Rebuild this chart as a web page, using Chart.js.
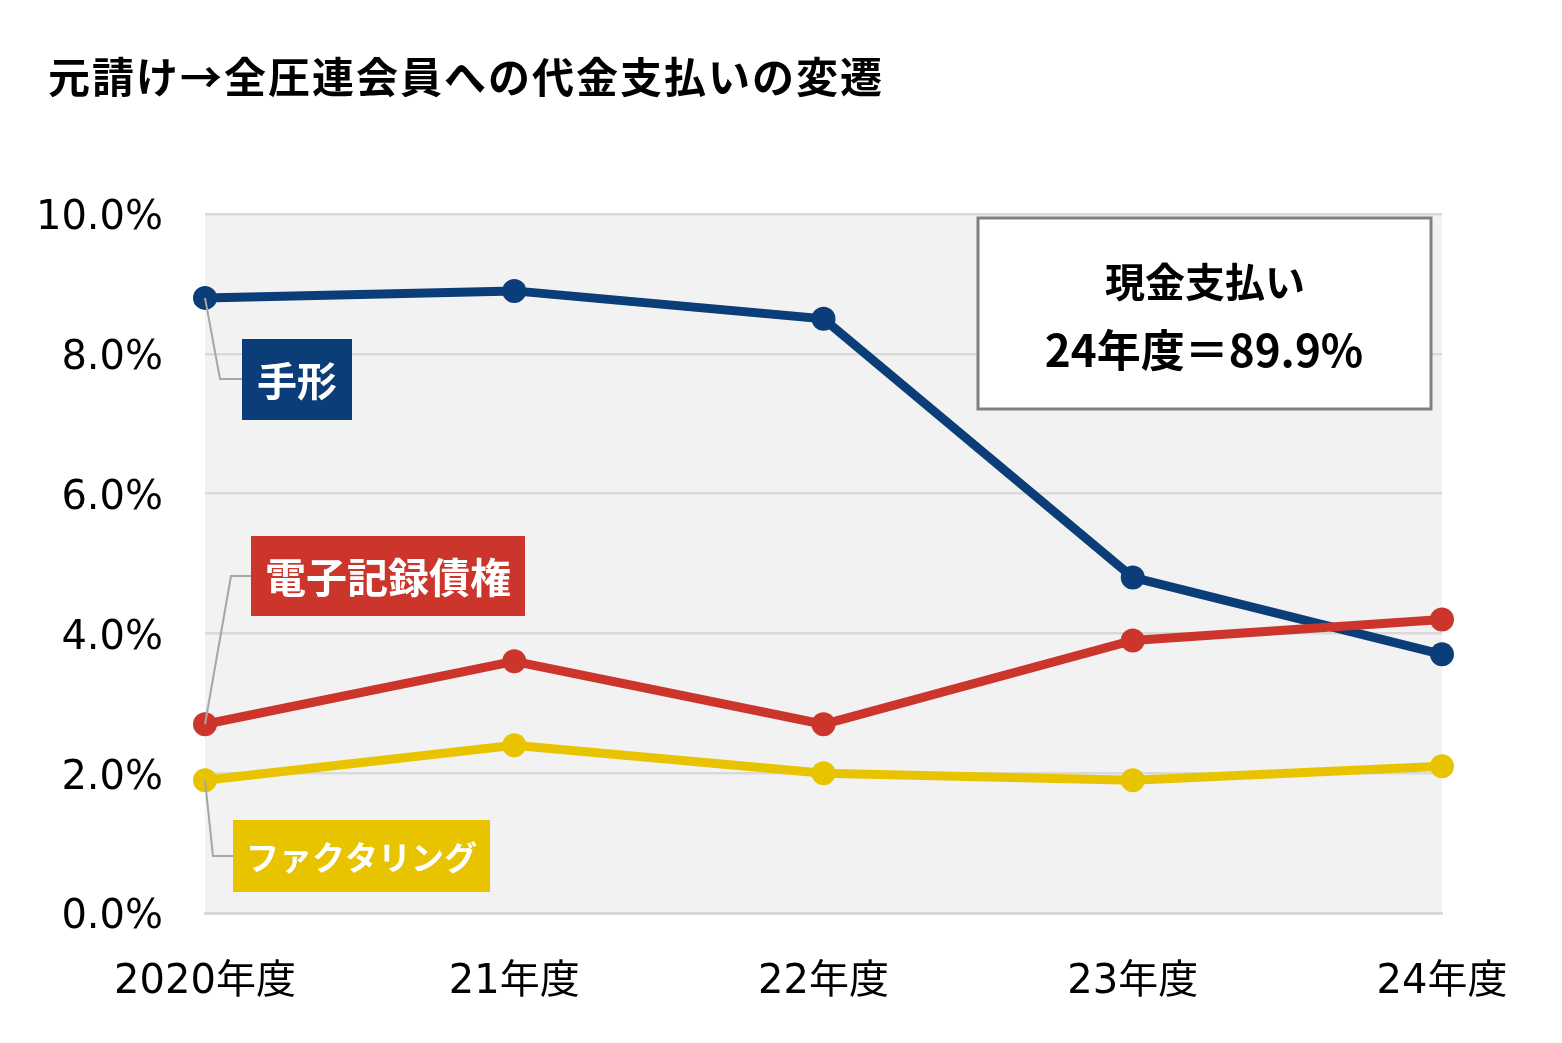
<!DOCTYPE html>
<html>
<head>
<meta charset="utf-8">
<script src="https://cdn.jsdelivr.net/npm/chart.js@4"></script>
<style>
html,body{margin:0;padding:0;background:#fff;}
#wrap{position:relative;width:1562px;height:1043px;box-sizing:border-box;border:3px solid #d9d9d9;}
canvas{position:absolute;left:-3px;top:-3px;}
</style>
</head>
<body>
<div id="wrap"><canvas id="c" width="1562" height="1043"></canvas></div>
<script>
const TITLE = "元請け→全圧連会員への代金支払いの変遷";
const categories = ["2020年度", "21年度", "22年度", "23年度", "24年度"];
const tegata = [8.8, 8.9, 8.5, 4.8, 3.7];
const denshi = [2.7, 3.6, 2.7, 3.9, 4.2];
const factoring = [1.9, 2.4, 2.0, 1.9, 2.1];
const seriesNames = ["手形", "電子記録債権", "ファクタリング"];
const yTicks = [0, 2, 4, 6, 8, 10];
const boxLines = ["現金支払い", "24年度＝89.9%"];

const COLORS = ["#0b3d78", "#cc352b", "#e8c400"];
const LATIN = '"DejaVu Sans", "Noto Sans CJK JP", sans-serif';
const CJK = '"Noto Sans CJK JP", "DejaVu Sans", sans-serif';

const bgPlugin = {
  id: 'bg',
  beforeDraw(chart) {
    const {ctx, chartArea: a} = chart;
    ctx.save();
    ctx.fillStyle = '#fff';
    ctx.fillRect(0, 0, chart.width, chart.height);
    ctx.fillStyle = '#f2f2f2';
    ctx.fillRect(a.left, a.top, a.right - a.left, a.bottom - a.top);
    ctx.restore();
  }
};

const overlay = {
  id: 'overlay',
  afterDraw(chart) {
    const {ctx} = chart;
    const xs = chart.scales.x, ys = chart.scales.y;
    ctx.save();
    // title
    ctx.fillStyle = '#000';
    ctx.font = 'bold 42px ' + CJK;
    ctx.textBaseline = 'middle';
    ctx.textAlign = 'left';
    if ('letterSpacing' in ctx) ctx.letterSpacing = '2px';
    ctx.fillText(TITLE, 48, 77);
    if ('letterSpacing' in ctx) ctx.letterSpacing = '0px';

    // annotation box
    ctx.fillStyle = '#fff';
    ctx.fillRect(978, 218, 453, 191);
    ctx.strokeStyle = '#808080';
    ctx.lineWidth = 3;
    ctx.strokeRect(978, 218, 453, 191);
    ctx.fillStyle = '#000';
    ctx.textAlign = 'center';
    ctx.font = 'bold 40px ' + CJK;
    ctx.fillText(boxLines[0], 1205, 282);
    ctx.font = 'bold 44px ' + CJK;
    ctx.fillText(boxLines[1], 1204, 350);

    // series labels with leader lines
    const data = [tegata, denshi, factoring];
    const boxes = [
      {x: 242, y: 339, w: 110, h: 81, elbow: [220, 379], fs: 40},
      {x: 251, y: 536, w: 274, h: 80, elbow: [231, 576], fs: 41},
      {x: 233, y: 820, w: 257, h: 72, elbow: [213, 856], fs: 33}
    ];
    boxes.forEach((b, i) => {
      const px = xs.getPixelForValue(0);
      const py = ys.getPixelForValue(data[i][0]);
      ctx.strokeStyle = '#a6a6a6';
      ctx.lineWidth = 2;
      ctx.beginPath();
      ctx.moveTo(px, py);
      ctx.lineTo(b.elbow[0], b.elbow[1]);
      ctx.lineTo(b.x, b.elbow[1]);
      ctx.stroke();
      ctx.fillStyle = COLORS[i];
      ctx.fillRect(b.x, b.y, b.w, b.h);
      ctx.fillStyle = '#fff';
      ctx.font = 'bold ' + b.fs + 'px ' + CJK;
      ctx.textAlign = 'center';
      ctx.textBaseline = 'middle';
      ctx.fillText(seriesNames[i], b.x + b.w / 2, b.y + b.h / 2 + 1);
    });
    ctx.restore();
  }
};

const mk = (label, d, i) => ({
  label, data: d,
  borderColor: COLORS[i], backgroundColor: COLORS[i],
  borderWidth: 9, pointRadius: 12, pointHoverRadius: 12,
  pointBorderWidth: 0, tension: 0, borderCapStyle: 'round'
});

new Chart(document.getElementById('c'), {
  type: 'line',
  data: {
    labels: categories,
    datasets: [mk(seriesNames[2], factoring, 2), mk(seriesNames[1], denshi, 1), mk(seriesNames[0], tegata, 0)]
  },
  options: {
    responsive: false,
    animation: false,
    events: [],
    layout: {padding: {left: 0, right: 120, top: 214, bottom: 0}},
    plugins: {legend: {display: false}, tooltip: {enabled: false}, title: {display: false}},
    scales: {
      x: {
        offset: false,
        grid: {display: false, drawTicks: false},
        border: {display: true, color: '#d9d9d9', width: 3},
        ticks: {color: '#000', font: {family: LATIN, size: 40}, padding: 46, maxRotation: 0, autoSkip: false},
        afterFit(s) { s.height = 130; }
      },
      y: {
        min: 0, max: 10,
        afterBuildTicks(s) { s.ticks = yTicks.map(v => ({value: v})); },
        grid: {color: '#d9d9d9', lineWidth: 2.5, drawTicks: false},
        border: {display: false},
        ticks: {color: '#000', font: {family: LATIN, size: 40}, padding: 42, labelOffset: 5,
          callback: v => Number(v).toFixed(1) + '%'},
        afterFit(s) { s.width = 205; }
      }
    }
  },
  plugins: [bgPlugin, overlay]
});
</script>
</body>
</html>
